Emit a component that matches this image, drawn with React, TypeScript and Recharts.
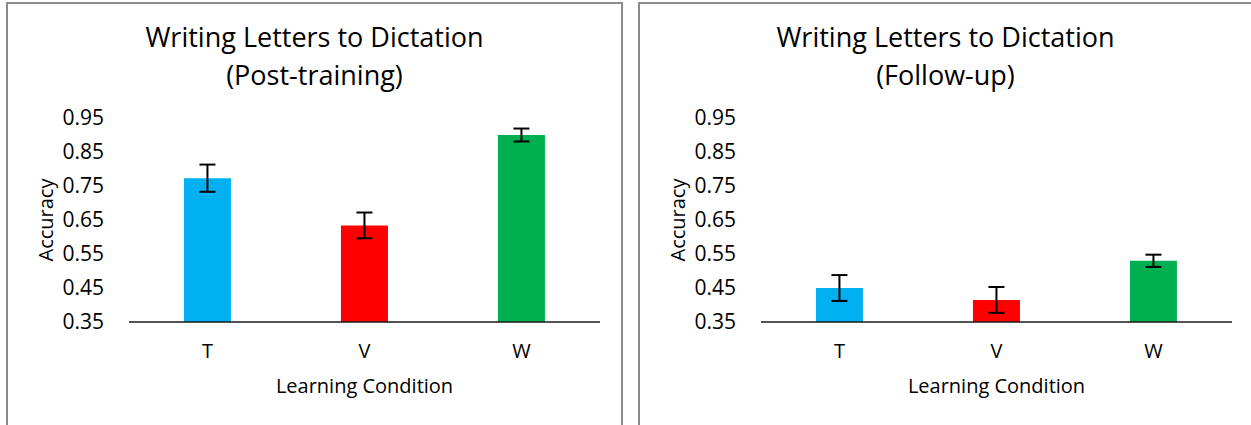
import React from "react";
import { BarChart, Bar, XAxis, YAxis, ErrorBar, Cell } from "recharts";

const conditions = ["T", "V", "W"];
const postTraining = [0.773, 0.634, 0.9];
const postTrainingErr = [0.04, 0.038, 0.019];
const followUp = [0.45, 0.415, 0.53];
const followUpErr = [0.038, 0.038, 0.018];
const yTicks = [0.35, 0.45, 0.55, 0.65, 0.75, 0.85, 0.95];
const barColors = ["#00B0F0", "#FF0000", "#00B050"];

const font = "'Open Sans', 'Liberation Sans', sans-serif";

const buildRows = (means: number[], errs: number[]) =>
  conditions.map((c, i) => ({ condition: c, accuracy: means[i], err: errs[i] }));

function AccuracyLabel(props: any) {
  const vb = props.viewBox || {};
  const x = vb.x + 16;
  const y = vb.y + vb.height / 2;
  return (
    <text
      x={x}
      y={y}
      transform={`rotate(-90, ${x}, ${y})`}
      textAnchor="middle"
      dominantBaseline="central"
      fontSize={20}
      fontFamily={font}
      fill="#000"
    >
      Accuracy
    </text>
  );
}

function Panel({
  means,
  errs,
  width,
  right,
}: {
  means: number[];
  errs: number[];
  width: number;
  right: number;
}) {
  const data = buildRows(means, errs);
  return (
    <BarChart
      width={width}
      height={425}
      data={data}
      margin={{ top: 118, right: right, bottom: 33, left: 29 }}
      barCategoryGap="35%"
    >
      <XAxis
        dataKey="condition"
        height={70}
        tickLine={false}
        tickSize={0}
        tickMargin={22}
        axisLine={{ stroke: "#1a1a1a", strokeWidth: 1.5 }}
        tick={{ fill: "#000", fontSize: 20, fontFamily: font }}
        label={{
          value: "Learning Condition",
          position: "insideBottom",
          offset: -1,
          fill: "#000",
          fontSize: 20,
          fontFamily: font,
        }}
      />
      <YAxis
        width={100}
        domain={[0.35, 0.95]}
        ticks={yTicks}
        interval={0}
        tickFormatter={(v: number) => v.toFixed(2)}
        axisLine={false}
        tickLine={false}
        tickSize={0}
        tickMargin={25}
        tick={{ fill: "#000", fontSize: 21, fontFamily: font }}
        label={<AccuracyLabel />}
      />
      <Bar dataKey="accuracy" isAnimationActive={false}>
        {data.map((d, i) => (
          <Cell key={d.condition} fill={barColors[i]} />
        ))}
        <ErrorBar
          dataKey="err"
          width={8}
          stroke="#000"
          strokeWidth={2}
          isAnimationActive={false}
        />
      </Bar>
    </BarChart>
  );
}

const titleStyle: React.CSSProperties = {
  position: "absolute",
  top: 18,
  textAlign: "center",
  fontFamily: font,
  fontSize: 27,
  lineHeight: "38px",
  color: "#000",
};

export default function App() {
  return (
    <div
      style={{
        position: "fixed",
        left: 0,
        top: 0,
        width: 1251,
        height: 425,
        overflow: "hidden",
        background: "#fff",
      }}
    >
      <div
        style={{
          position: "absolute",
          left: 6,
          top: 2,
          width: 613,
          height: 440,
          border: "2px solid #8c8c8c",
        }}
      />
      <div
        style={{
          position: "absolute",
          left: 638,
          top: 2,
          width: 640,
          height: 440,
          border: "2px solid #8c8c8c",
        }}
      />
      <div style={{ position: "absolute", left: 0, top: 0 }}>
        <Panel means={postTraining} errs={postTrainingErr} width={625} right={25} />
      </div>
      <div style={{ position: "absolute", left: 632, top: 0 }}>
        <Panel means={followUp} errs={followUpErr} width={619} right={19} />
      </div>
      <div style={{ ...titleStyle, left: 8, width: 613 }}>
        Writing Letters to Dictation
        <br />
        (Post-training)
      </div>
      <div style={{ ...titleStyle, left: 640, width: 611 }}>
        Writing Letters to Dictation
        <br />
        (Follow-up)
      </div>
    </div>
  );
}
